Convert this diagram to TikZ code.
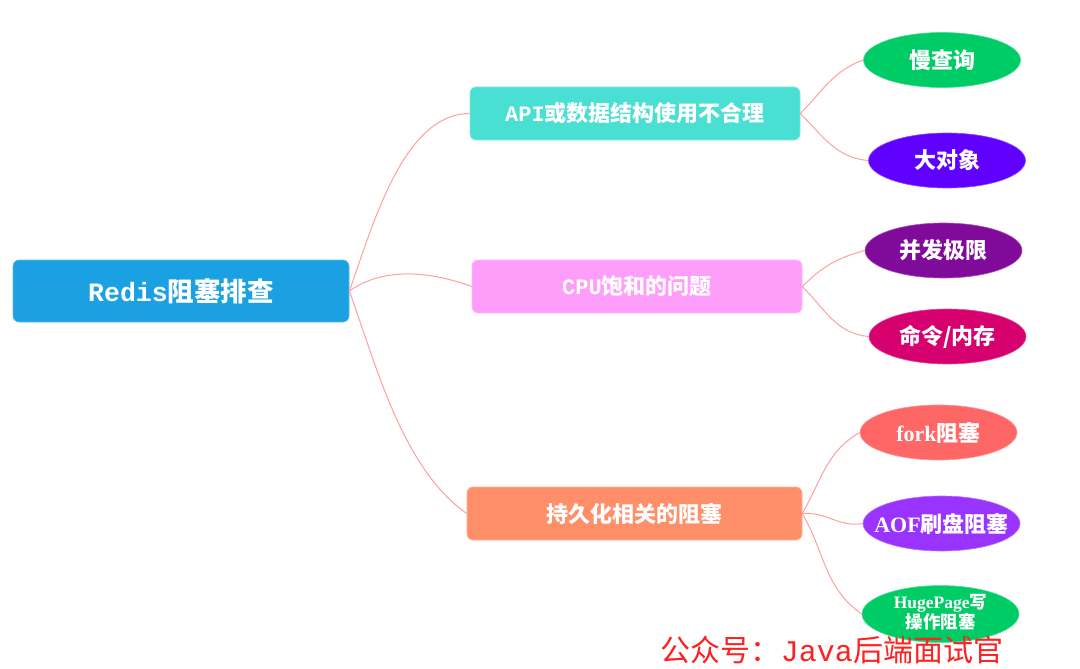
\documentclass[tikz,border=0pt]{standalone}
\usepackage{fontspec}
\usetikzlibrary{shapes.geometric}
\newfontfamily\cjk{Noto Sans CJK SC}
\newfontfamily\monof{Liberation Mono}
\newfontfamily\serf{Liberation Serif}
\definecolor{rootc}{RGB}{27,161,226}
\definecolor{bA}{RGB}{74,223,211}
\definecolor{bB}{RGB}{255,158,250}
\definecolor{bC}{RGB}{255,143,105}
\definecolor{lgreen}{RGB}{0,204,102}
\definecolor{lviolet}{RGB}{96,0,255}
\definecolor{lpurple}{RGB}{128,10,154}
\definecolor{lmag}{RGB}{214,0,110}
\definecolor{lred}{RGB}{255,102,102}
\definecolor{lamethyst}{RGB}{153,51,255}
\definecolor{linkc}{RGB}{255,160,160}
\definecolor{wmark}{RGB}{255,32,32}
\begin{document}
\begin{tikzpicture}[x=1pt,y=-1pt,
  rootbox/.style={fill=rootc,draw=rootc!70!white,line width=0.6pt,rounded corners=6pt,minimum width=336pt,minimum height=62pt,inner sep=0pt,text=white,font=\cjk\bfseries\fontsize{26.5}{30}\selectfont},
  branchbox/.style={draw=#1!70!white,line width=0.6pt,fill=#1,rounded corners=6pt,minimum width=330pt,minimum height=53pt,inner sep=0pt,text=white,font=\cjk\bfseries\fontsize{22}{26}\selectfont},
  leaf/.style={ellipse,fill=#1,draw=#1!70!white,line width=0.6pt,minimum width=157pt,minimum height=55pt,inner sep=0pt,text=white,font=\cjk\bfseries\fontsize{22}{26}\selectfont},
  link/.style={draw=linkc,line width=1pt}]
\useasboundingbox (0,0) rectangle (1080,669);
\fill[white] (0,0) rectangle (1080,669);

\node[rootbox] (root) at (181,291) {{\monof\bfseries Redis}阻塞排查};

\node[branchbox=bA] (b1) at (635,113.5) {{\monof\bfseries API}或数据结构使用不合理};
\node[branchbox=bB] (b2) at (637,286.5) {{\monof\bfseries CPU}饱和的问题};
\node[branchbox=bC,minimum width=335pt] (b3) at (634.5,513.5) {持久化相关的阻塞};

\node[leaf=lgreen] (l1) at (942,60) {慢查询};
\node[leaf=lviolet] (l2) at (947,160.5) {大对象};
\node[leaf=lpurple] (l3) at (943.5,250.5) {并发极限};
\node[leaf=lmag] (l4) at (947.5,336.5) {命令/内存};
\node[leaf=lred] (l5) at (938.5,432.5) {{\serf\bfseries fork}阻塞};
\node[leaf=lamethyst] (l6) at (941.5,523.5) {\makebox[0pt]{{\serf\bfseries AOF}刷盘阻塞}};
\node[leaf=lgreen,font=\cjk\bfseries\fontsize{17.5}{19.5}\selectfont] (l7) at (940.5,614) {\makebox[0pt]{\begin{tabular}{@{}c@{}}{\serf\bfseries HugePage}写\\[-1pt]操作阻塞\end{tabular}}};

\draw[link] (root.east) to[out=70,in=180,looseness=0.8] (b1.west);
\draw[link] (root.east) to[out=35,in=160,looseness=0.9] (b2.west);
\draw[link] (root.east) to[out=-70,in=145,looseness=0.8] (b3.west);

\draw[link] (b1.east) to[out=45,in=200] (l1.west);
\draw[link] (b1.east) to[out=-45,in=175] (l2.west);
\draw[link] (b2.east) to[out=45,in=195] (l3.west);
\draw[link] (b2.east) to[out=-45,in=175] (l4.west);
\draw[link] (b3.east) to[out=60,in=210] (l5.west);
\draw[link] (b3.east) to[out=5,in=190] (l6.west);
\draw[link] (b3.east) to[out=-60,in=145] (l7.west);

\node[text=wmark,font=\cjk\fontsize{30}{34}\selectfont,inner sep=0pt] (wm) at (832,650) {公众号：{\monof Java}后端面试官};
\end{tikzpicture}
\end{document}
